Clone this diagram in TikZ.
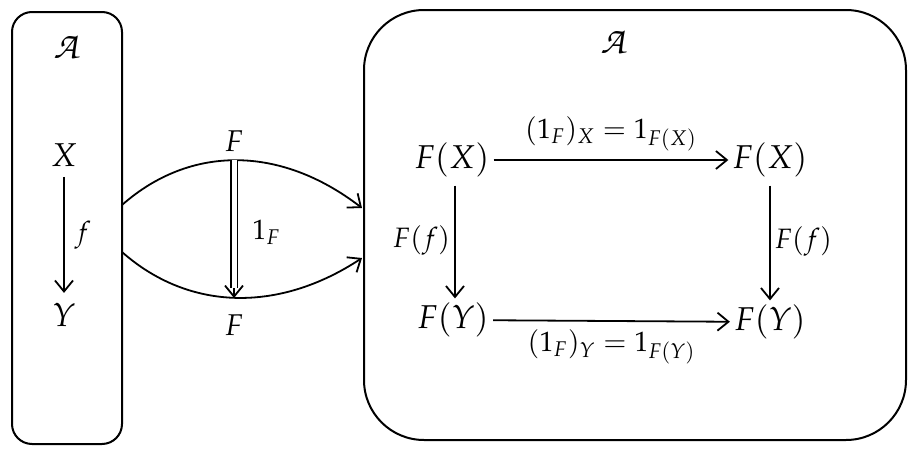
\documentclass[tikz,border=0pt]{standalone}
\usepackage{mathpazo}
\usetikzlibrary{arrows.meta,calc}
\DeclareMathAlphabet{\mathchanc}{OT1}{pzc}{m}{it}
\tikzset{
  box/.style={draw, line width=1pt, inner sep=0pt},
  obj/.style={inner sep=2pt, font=\fontsize{16.5}{19}\selectfont},
  lab/.style={inner sep=2pt, font=\fontsize{14}{16}\selectfont},
  cat/.style={inner sep=0pt, font=\fontsize{19}{21}\selectfont},
  arr/.style={line width=0.9pt, -{Straight Barb[length=5.5pt,width=9pt,line width=0.9pt]}},
}
\begin{document}
\begin{tikzpicture}[x=0.5pt,y=-0.5pt]
\useasboundingbox (0,0) rectangle (918,450);
% boxes
\node[box, rounded corners=10pt, minimum width=55pt, minimum height=216pt] (L) at (67,228) {};
\node[box, rounded corners=30pt, minimum width=271pt, minimum height=215pt] (R) at (635,225) {};
\node[cat] (A1) at (67,47) {$\mathchanc{A}$};
\node[cat] (A2) at (614,42) {$\mathchanc{A}$};
% left category
\node[obj] (X) at (64,155) {$X$};
\node[obj] (Y) at (64,315) {$Y$};
\draw[arr, shorten <=3pt, shorten >=3pt] (X) -- (Y) node[midway, right, lab, xshift=3pt] {$f$};
% functors
\coordinate (s1) at (122,205);
\coordinate (e1) at (362,208);
\coordinate (s2) at (122,252);
\coordinate (e2) at (362,258);
\draw[arr] (s1) .. controls (190,145) and (280,145) .. (e1);
\draw[arr] (s2) .. controls (190,312) and (280,312) .. (e2);
\node[lab, font=\fontsize{15}{17}\selectfont] (Ft) at (234,141) {$F$};
\node[lab, font=\fontsize{15}{17}\selectfont] (Fb) at (234,325) {$F$};
\coordinate (nt) at (234,160);
\coordinate (nb) at (234,298);
\coordinate (nbm) at (234,288);
\draw[line width=0.9pt, double, double distance=2.5pt] (nt) -- (nbm);
\draw[arr] (nbm) -- (nb);
\node[lab, anchor=west] (eta) at (248,232) {$1_F$};
% right square
\node[obj] (FX) at (452,160) {$F(X)$};
\node[obj] (FX2) at (770,160) {$F(X)$};
\node[obj] (FY) at (453,320) {$F(Y)$};
\node[obj] (FY2) at (770,322) {$F(Y)$};
\draw[arr] (FX) -- (FX2) node[midway, above, lab, yshift=2pt] {$(1_F)_X = 1_{F(X)}$};
\draw[arr] (FY) -- (FY2) node[midway, below, lab, yshift=-2pt] {$(1_F)_Y = 1_{F(Y)}$};
\draw[arr, shorten <=2pt] (FX.south -| 455,0) -- (FY.north -| 455,0) node[midway, left, lab] {$F(f)$};
\draw[arr, shorten <=2pt] (FX2.south) -- (FY2.north) node[midway, right, lab] {$F(f)$};
\end{tikzpicture}
\end{document}
